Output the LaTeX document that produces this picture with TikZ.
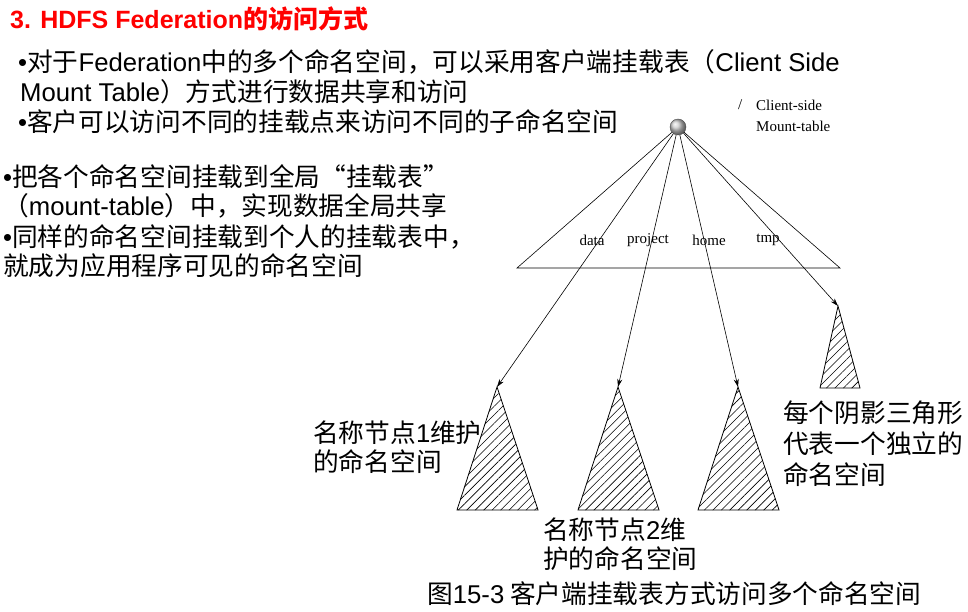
\documentclass[tikz,border=0pt]{standalone}
\usepackage{fontspec}
\setmainfont{Noto Sans CJK SC}
\newfontfamily\serifen{Liberation Serif}
\newfontfamily\en{Liberation Sans}
\newcommand{\bul}{{\en\textbullet}}
\usetikzlibrary{patterns.meta,arrows.meta}
\tikzset{
 txt/.style={anchor=west,inner sep=0pt,font=\fontsize{25.7}{28}\selectfont},
 lab/.style={inner sep=0pt,font=\serifen\fontsize{15}{16}\selectfont},
 hatch/.style={draw,line width=0.8pt,pattern={Lines[angle=45,distance=6pt,line width=0.6pt]}},
 arr/.style={-{Stealth[length=8pt,width=5pt]},line width=0.6pt},
}
\begin{document}
\begin{tikzpicture}[x=1pt,y=-1pt]
\useasboundingbox (0,0) rectangle (968,612);
\node[anchor=west,inner sep=0pt,text=red,font=\bfseries\fontsize{25}{28}\selectfont] (title) at (10,19) {{\en 3. HDFS Federation}的访问方式};
\node[txt] (l1) at (18,62) {\bul 对于{\en Federation}中的多个命名空间，可以采用客户端挂载表（{\en Client Side}};
\node[txt] (l2) at (20,92) {{\en Mount Table}）方式进行数据共享和访问};
\node[txt] (l3) at (18,122) {\bul 客户可以访问不同的挂载点来访问不同的子命名空间};
\node[txt] (l4) at (3,177) {\bul 把各个命名空间挂载到全局“挂载表”};
\node[txt] (l5) at (3,206) {（{\en mount-table}）中，实现数据全局共享};
\node[txt] (l6) at (3,237) {\bul 同样的命名空间挂载到个人的挂载表中，};
\node[txt] (l7) at (3,266) {就成为应用程序可见的命名空间};
% mount table
\draw[line width=0.6pt] (678,127) -- (517,268) -- (840,268) -- cycle;
\node[circle,minimum size=16pt,inner sep=0pt,draw=gray!60!black,ball color=gray!40] (root) at (678,127) {};
\node[lab,anchor=west] (slash) at (738,105) {/};
\node[lab,anchor=west] (cs) at (756,105) {Client-side};
\node[lab,anchor=west] (mt) at (756,126) {Mount-table};
\node[lab] (d) at (592,240) {data};
\node[lab] (p) at (648,240) {project};
\node[lab] (h) at (709,240) {home};
\node[lab] (t) at (768,240) {tmp};
% triangles
\draw[hatch] (497,387) -- (457,510) -- (538,510) -- cycle;
\draw[hatch] (618,387) -- (578,510) -- (659,510) -- cycle;
\draw[hatch] (738,387) -- (698,510) -- (779,510) -- cycle;
\draw[hatch] (838,306) -- (820,388) -- (860,388) -- cycle;
\coordinate (a1) at (497,387);
\coordinate (a2) at (618,387);
\coordinate (a3) at (738,387);
\coordinate (a4) at (838,306);
\foreach \c in {a1,a2,a3,a4} \draw[arr] (root) -- (\c);
\node[txt] (n1a) at (313,433) {名称节点{\en 1}维护};
\node[txt] (n1b) at (313,462) {的命名空间};
\node[txt] (n2a) at (543,530) {名称节点{\en 2}维};
\node[txt] (n2b) at (543,559) {护的命名空间};
\node[txt] (s1) at (783,413) {每个阴影三角形};
\node[txt] (s2) at (783,444) {代表一个独立的};
\node[txt] (s3) at (783,475) {命名空间};
\node[txt] (cap) at (427,594) {图{\en 15-3} 客户端挂载表方式访问多个命名空间};
\end{tikzpicture}
\end{document}
